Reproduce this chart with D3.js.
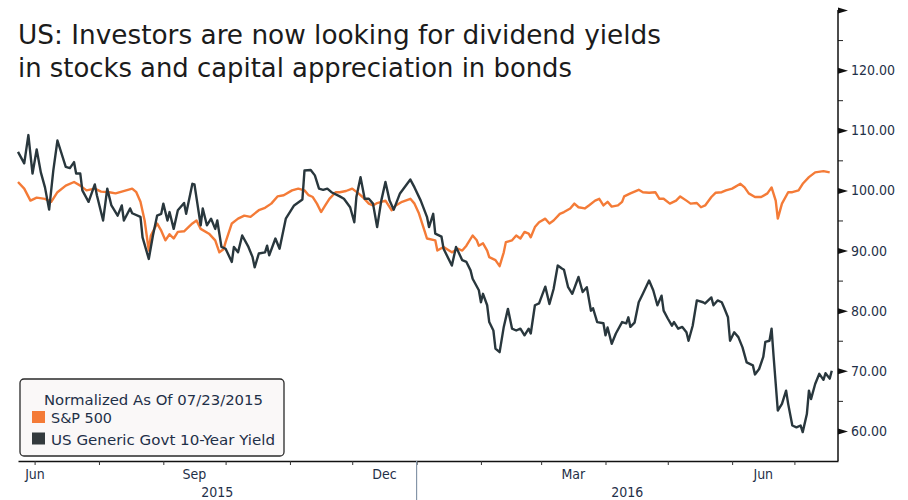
<!DOCTYPE html>
<html><head><meta charset="utf-8">
<script src="https://cdn.jsdelivr.net/npm/d3@7"></script>
<style>body{margin:0;background:#fff;} svg{display:block;}</style>
</head><body><svg id="c" width="908" height="500"></svg>
<script>
// ---------- data ----------
const startDate = "2015-06-23";
const endDate = "2016-07-22";
const titleLines = ["US: Investors are now looking for dividend yields", "in stocks and capital appreciation in bonds"];
const legendTitle = "Normalized As Of 07/23/2015";
const seriesNames = ["S&P 500", "US Generic Govt 10-Year Yield"];

// day offsets from startDate, and normalized values
const spxDays = [0,3,6,9,13,16,19,23,27,30,33,37,40,44,47,50,55,57,59,61,63,64,67,69,71,73,75,77,80,84,86,88,92,95,97,99,100,103,106,109,112,116,119,122,125,128,132,135,138,140,142,144,146,148,150,153,155,158,161,164,166,169,171,173,177,180,182,185,189,191,193,196,197,201,202,205,209,212,214,216,219,221,222,224,226,227,230,232,234,235,238,240,242,244,246,247,249,251,254,256,258,261,263,266,268,270,273,275,278,280,282,284,286,289,291,292,295,299,301,304,307,309,311,314,317,319,322,324,327,329,331,334,336,339,341,344,348,350,352,355,358,361,363,365,366,368,371,373,376,378,381,384,388,391];
const spxValues = [101.4,100.3,98.3,98.8,98.6,98.1,99.7,100.8,101.4,100.8,100.0,100.3,99.8,99.7,99.5,99.8,100.3,99.7,98.1,95.0,90.0,92.5,94.5,93.3,91.7,92.7,92.0,93.1,93.2,94.5,95.0,93.6,92.8,91.7,89.7,90.2,91.4,94.5,95.3,95.8,95.6,96.7,97.1,97.8,99.0,99.2,100.0,100.3,100.0,99.2,98.9,97.8,96.4,97.5,98.6,99.7,99.7,99.9,100.3,99.5,98.9,97.8,97.5,97.9,98.3,96.7,97.5,98.1,98.6,97.8,96.3,93.1,92.0,91.7,90.0,90.6,89.7,90.3,90.0,90.8,92.5,91.7,90.8,91.2,90.0,88.9,88.4,87.4,89.7,91.4,91.7,92.5,92.0,93.1,92.8,92.2,93.9,94.7,95.3,94.5,95.0,96.1,96.4,97.0,97.8,97.2,97.0,97.5,98.3,98.6,97.5,98.1,97.3,97.5,98.1,99.0,99.5,100.1,99.7,99.6,99.7,98.6,98.6,97.8,98.3,99.0,98.3,97.8,97.9,97.2,97.5,98.9,99.6,99.7,100.0,100.3,101.1,100.5,99.5,98.9,98.9,99.5,100.5,98.3,95.3,97.8,99.7,99.7,100.0,101.1,102.2,103.0,103.2,103.0];

const ustDays = [0,3,5,7,9,11,13,15,17,19,23,25,27,28,30,31,34,37,38,41,43,45,48,50,51,54,55,59,60,63,65,67,69,70,72,73,75,77,80,81,84,85,88,89,91,93,95,96,98,100,103,104,106,108,111,113,114,116,119,120,121,124,126,129,133,137,138,141,143,145,147,149,151,155,157,160,162,163,165,167,169,171,173,175,177,179,181,184,189,191,194,197,198,200,201,204,205,209,211,214,216,218,219,222,223,224,226,227,229,230,232,234,236,238,240,242,244,246,247,249,251,254,256,258,260,262,263,265,267,270,272,274,276,277,279,282,283,284,286,288,291,293,294,295,297,299,301,304,306,308,310,311,313,315,316,318,320,322,323,325,327,330,331,334,335,337,339,340,342,343,345,347,349,351,354,355,357,359,360,362,363,364,366,368,370,371,373,375,377,378,380,381,382,384,386,388,389,391,392];
const ustValues = [106.4,104.5,109.2,102.8,106.8,103.0,100.5,96.8,103.3,108.3,103.9,103.7,104.7,102.8,102.8,100.0,98.1,101.0,99.2,95.0,100.3,97.5,95.8,97.5,95.0,97.0,96.2,95.6,92.2,88.6,92.5,95.8,96.1,97.8,95.0,96.4,93.6,96.7,97.9,96.1,101.1,101.0,94.2,97.0,94.2,95.3,93.6,95.0,90.6,90.3,88.1,90.6,89.7,92.5,90.6,88.9,87.2,89.5,89.7,90.8,89.2,92.0,90.3,95.3,97.5,98.5,103.3,103.4,102.5,100.3,100.1,100.3,99.7,99.0,98.6,97.2,94.7,98.9,102.2,98.6,98.6,97.8,93.9,98.3,101.4,98.3,96.8,99.5,101.8,100.5,98.3,95.6,93.9,96.1,92.8,92.3,90.3,87.5,90.6,88.4,88.1,86.7,85.3,83.4,81.4,82.8,80.9,78.1,76.7,73.7,73.1,77.3,80.3,77.0,76.7,77.0,75.9,77.0,76.2,80.9,81.2,84.0,81.1,83.6,87.5,87.0,86.8,83.9,82.8,85.6,83.1,83.9,80.0,80.4,78.1,77.9,75.9,77.2,74.5,76.2,78.1,77.9,78.9,77.3,78.0,81.4,82.8,85.0,83.4,80.9,82.5,80.0,78.7,77.5,78.1,77.0,77.3,76.4,75.0,77.5,81.7,81.4,81.2,82.2,80.9,81.7,81.4,80.6,78.9,75.0,76.4,75.6,73.9,71.4,70.9,69.4,70.3,72.3,74.8,75.0,77.0,72.3,63.4,64.5,66.7,64.5,60.9,60.6,60.9,59.8,62.8,66.7,65.3,67.8,69.5,68.5,69.6,68.7,70.0];

const yMajorTicks = [60,70,80,90,100,110,120,130];
const yMinorTicks = [65,75,85,95,105,115,125];
const yearLabels = ["2015","2016"];

// ---------- drawing ----------
const svg = d3.select("#c");
const W = 908, H = 500;
const mLeft = 18, mRight = 838, mTop = 10, mBottom = 461;
const FONT = "'DejaVu Sans Condensed','DejaVu Sans',sans-serif";
const TXT = "#1f3048";
const ORANGE = "#f47b37", DARK = "#29373d";

const parse = d3.utcParse("%Y-%m-%d");
const t0 = parse(startDate), t1 = parse(endDate);
const x = d3.scaleUtc().domain([t0, t1]).range([mLeft, mRight]);
const y = d3.scaleLinear().domain([55, 130]).range([mBottom, mTop]);

const mk = (days, vals) => days.map((d, i) => ({date: d3.utcDay.offset(t0, d), v: vals[i]}));
const spx = mk(spxDays, spxValues);
const ust = mk(ustDays, ustValues);

// title
svg.selectAll("text.title").data(titleLines).join("text")
  .attr("class","title")
  .attr("x", mLeft).attr("y", (d,i) => 44 + i*33)
  .attr("font-family", FONT).attr("font-size", 27).attr("fill", "#1b1b1b")
  .attr("textLength", (d,i) => i === 0 ? 643 : 554)
  .attr("lengthAdjust", "spacingAndGlyphs")
  .text(d => d);

// lines
const line = d3.line().x(d => x(d.date)).y(d => y(d.v));
svg.append("path").datum(spx).attr("d", line)
  .attr("fill","none").attr("stroke", ORANGE).attr("stroke-width", 2.4).attr("stroke-linejoin","round");
svg.append("path").datum(ust).attr("d", line)
  .attr("fill","none").attr("stroke", DARK).attr("stroke-width", 2.4).attr("stroke-linejoin","round");

// bottom axis
const months = d3.utcMonth.range(d3.utcMonth.ceil(t0), t1);
const xAxis = d3.axisBottom(x).tickValues(months).tickSize(4).tickSizeOuter(0).tickFormat("");
const gx = svg.append("g").attr("transform", `translate(0,${mBottom})`).call(xAxis);
gx.select(".domain").attr("stroke","#111").attr("stroke-width",1.5);
gx.selectAll(".tick line").attr("stroke","#333");

// month labels: quarterly, centred in the month, clamped to the plot
const labelMonths = d3.utcMonth.range(d3.utcMonth.floor(t0), t1).filter(m => [2,5,8,11].includes(m.getUTCMonth()));
svg.selectAll("text.mlab").data(labelMonths).join("text")
  .attr("class","mlab")
  .attr("x", m => {
    const c = (x(m) + x(d3.utcMonth.offset(m,1))) / 2;
    return Math.max(mLeft + 17, c);
  })
  .attr("y", 479).attr("text-anchor","middle")
  .attr("font-family", FONT).attr("font-size", 14).attr("fill", TXT)
  .text(d3.utcFormat("%b"));

// year labels and separator
const jan = d3.utcYear.ceil(t0);
const yearSpans = [[t0, jan], [jan, t1]];
svg.selectAll("text.ylab").data(yearLabels).join("text")
  .attr("class","ylab")
  .attr("x", (d,i) => (x(yearSpans[i][0]) + x(yearSpans[i][1])) / 2)
  .attr("y", 497).attr("text-anchor","middle")
  .attr("font-family", FONT).attr("font-size", 14).attr("fill", TXT)
  .text(d => d);
svg.append("line").attr("x1", x(jan)).attr("x2", x(jan)).attr("y1", mBottom).attr("y2", H)
  .attr("stroke","#8595a8").attr("stroke-width",1.2);

// right axis
const yAxis = d3.axisRight(y).tickValues(yMajorTicks).tickSize(0).tickPadding(13)
  .tickFormat(d => d === 130 ? "" : d3.format(".2f")(d));
const gy = svg.append("g").attr("transform", `translate(${mRight},0)`).call(yAxis);
gy.select(".domain").remove();
gy.selectAll(".tick text").attr("font-family", FONT).attr("font-size", 14).attr("fill", TXT);
gy.selectAll(".tick").append("path").attr("d", "M0,-3L10,0L0,3Z").attr("fill", "#111");
const yMinor = d3.axisRight(y).tickValues(yMinorTicks).tickSize(5).tickFormat("");
const gym = svg.append("g").attr("transform", `translate(${mRight},0)`).call(yMinor);
gym.select(".domain").remove();
gym.selectAll(".tick line").attr("stroke","#222");
svg.append("line").attr("x1", mRight).attr("x2", mRight).attr("y1", mTop).attr("y2", mBottom)
  .attr("stroke","#111").attr("stroke-width",1.5);

// legend
const lg = svg.append("g");
lg.append("rect").attr("x", 20).attr("y", 379).attr("width", 264).attr("height", 77).attr("rx", 4)
  .attr("fill", "#faf8f8").attr("stroke", "#2a2a2a").attr("stroke-width", 1.3);
lg.append("text").attr("x", 44).attr("y", 405).attr("font-family", FONT).attr("font-size", 14)
  .attr("fill", TXT).attr("textLength", 219).attr("lengthAdjust","spacingAndGlyphs").text(legendTitle);
const legColors = [ORANGE, "#333a3d"];
const legLens = [61, 224];
seriesNames.forEach((n, i) => {
  lg.append("rect").attr("x", 32).attr("y", 411 + i*21.5).attr("width", 13).attr("height", 12).attr("fill", legColors[i]);
  lg.append("text").attr("x", 51).attr("y", 423 + i*21.5).attr("font-family", FONT).attr("font-size", 14)
    .attr("fill", TXT).attr("textLength", legLens[i]).attr("lengthAdjust","spacingAndGlyphs").text(n);
});
</script>
</body></html>
